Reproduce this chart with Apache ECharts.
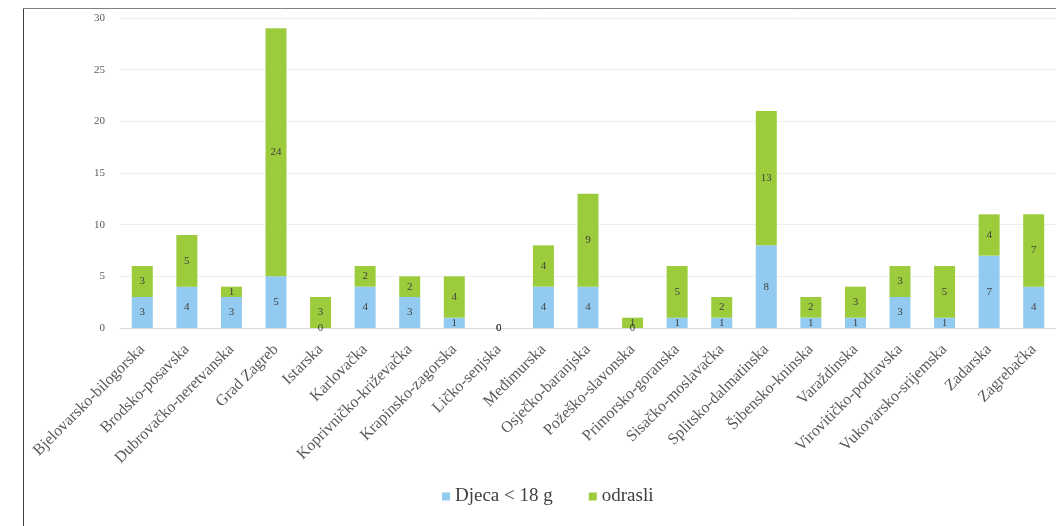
<!DOCTYPE html>
<html>
<head>
<meta charset="utf-8">
<script src="https://cdn.jsdelivr.net/npm/echarts@6/dist/echarts.min.js"></script>
<style>html,body{margin:0;padding:0;background:#fff}#c{width:1056px;height:526px}</style>
</head>
<body>
<div id="c"></div>
<script>
const categories = ["Bjelovarsko-bilogorska","Brodsko-posavska","Dubrovačko-neretvanska","Grad Zagreb","Istarska","Karlovačka","Koprivničko-križevačka","Krapinsko-zagorska","Ličko-senjska","Međimurska","Osječko-baranjska","Požeško-slavonska","Primorsko-goranska","Sisačko-moslavačka","Splitsko-dalmatinska","Šibensko-kninska","Varaždinska","Virovitičko-podravska","Vukovarsko-srijemska","Zadarska","Zagrebačka"];
const djeca = [3,4,3,5,0,4,3,1,0,4,4,0,1,1,8,1,1,3,1,7,4];
const odrasli = [3,5,1,24,3,2,2,4,0,4,9,1,5,2,13,2,3,3,5,4,7];
const seriesNames = ["Djeca < 18 g","odrasli"];
const yTicks = [0,5,10,15,20,25,30];

const font = "'Liberation Serif', 'DejaVu Serif', serif";
const chart = echarts.init(document.getElementById('c'), null, {renderer:'canvas'});
const lbl = {show:true, position:'inside', color:'#404040', fontSize:11, fontFamily:font};
chart.setOption({
  animation:false,
  backgroundColor:'#fff',
  grid:{left:120, top:18, width:944, height:310, containLabel:false},
  legend:{left:437, top:482, itemWidth:8, itemHeight:8, itemGap:36, icon:'rect',
    textStyle:{fontFamily:font, fontSize:19, color:'#404040'}, data:seriesNames},
  xAxis:{type:'category', data:categories,
    axisLine:{show:true, lineStyle:{color:'#d9d9d9'}}, axisTick:{show:false},
    axisLabel:{rotate:45, interval:0, margin:19, fontFamily:font, fontSize:16, color:'#595959'}},
  yAxis:{type:'value', min:yTicks[0], max:yTicks[yTicks.length-1], interval:5,
    axisLine:{show:false}, axisTick:{show:false},
    splitLine:{lineStyle:{color:'#eeeeee'}},
    axisLabel:{margin:15, fontFamily:font, fontSize:11, color:'#595959'}},
  series:[
    {name:seriesNames[0], type:'bar', stack:'a', data:djeca, barWidth:21,
      itemStyle:{color:'#92cbef'}, label:lbl},
    {name:seriesNames[1], type:'bar', stack:'a', data:odrasli, barWidth:21,
      itemStyle:{color:'#9ccc3c'}, label:lbl}
  ],
  graphic:[
    {type:'line', shape:{x1:23.5,y1:8.5,x2:1056,y2:8.5}, style:{stroke:'#7f7f7f', lineWidth:1}},
    {type:'line', shape:{x1:23.5,y1:8.5,x2:23.5,y2:526}, style:{stroke:'#404040', lineWidth:1}}
  ]
});
</script>
</body>
</html>
